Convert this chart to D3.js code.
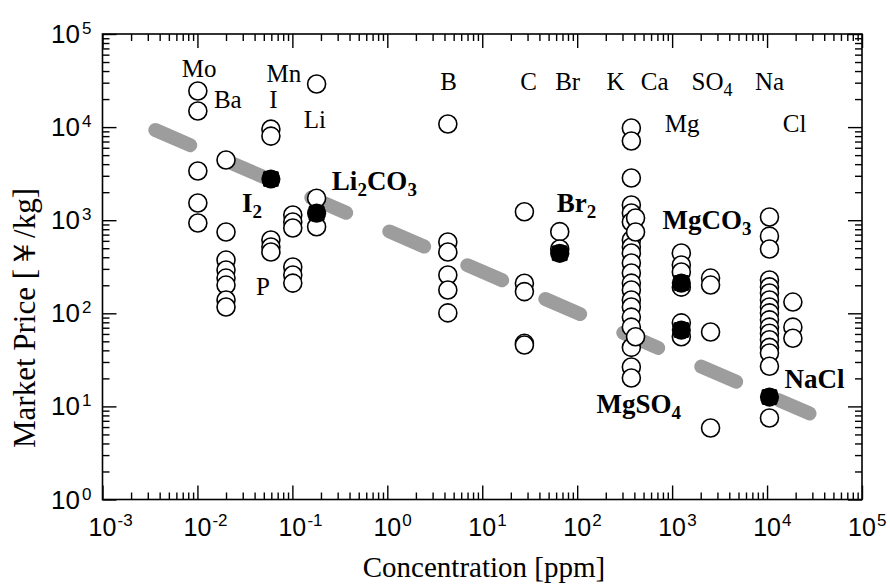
<!DOCTYPE html>
<html>
<head>
<meta charset="utf-8">
<script src="https://cdn.jsdelivr.net/npm/d3@7"></script>
<style>
  body { margin: 0; background: #fff; }
  svg { display: block; }
</style>
</head>
<body>
<div id="viz"></div>
<script>
// chart size
var w = 890;
var h = 584;
var margin = {top: 34, right: 28, bottom: 84.5, left: 102.5};

// concentration of each column [ppm] and the prices found at it [yen/kg]
var moConc = 0.0101, moPrice = [24400, 14900, 3375, 1530, 933];
var baConc = 0.02,   baPrice = [4430, 747, 373, 292, 239, 201, 139, 117];
var iConc  = 0.0594, iPrice  = [9500, 8000, 612, 515, 455];
var pConc  = 0.101,  pPrice  = [1137, 957, 825, 314, 258, 211];
var liConc = 0.18,   liPrice = [29000, 1720, 851];
var bConc  = 4.34,   bPrice  = [10800, 583, 455, 258, 178, 101];
var cConc  = 27.8,   cPrice  = [1234, 210, 171, 47.6, 45.6];
var brConc = 65.5,   brPrice = [753, 490];
var kConc  = 372,    kPrice  = [9780, 7090, 2840, 1455, 1194, 957, 612, 515, 444, 347, 271, 211, 178, 139, 117, 91, 71, 43, 26.5, 20.2];
var caConc = 412,    caPrice = [1056, 747, 56];
var mgConc = 1250,   mgPrice = [444, 330, 278, 191, 79, 56];
var so4Conc = 2540,  so4Price = [239, 201, 63, 5.86];
var naConc = 10600,  naPrice = [1082, 674, 490, 228, 192, 165, 139, 117, 101, 85, 71, 61, 52, 43, 37.5, 27, 7.5];
var clConc = 18700,  clPrice = [132, 71, 54];

// products (filled markers)
var productNames = ["I2", "Li2CO3", "Br2", "MgCO3", "MgSO4", "NaCl"];
var productConc  = [0.0594, 0.18, 65.5, 1250, 1250, 10600];
var productPrice = [2770, 1190, 441, 211, 66, 12.6];

// grey trend line ends
var trendConc  = [0.0036, 28000];
var trendPrice = [9300, 8.4];

// element labels (text, concentration, price at baseline)
var elemNames = ["Mo", "Ba", "Mn", "I", "Li", "B", "C", "Br", "K", "Ca", "Na", "Mg", "Cl", "P"];
var elemConc  = [0.0104, 0.0209, 0.0814, 0.063, 0.1726, 4.43, 30.8, 79.4, 254, 655, 10600, 1274, 19500, 0.0489];
var elemPrice = [34500, 16000, 30500, 16000, 9780, 25300, 25300, 25300, 25300, 25300, 25300, 8850, 8850, 157];

// product labels (main text, subscript, rest, ...) start position
var prodLabelParts = [["I", "2"], ["Li", "2", "CO", "3"], ["Br", "2"], ["MgCO", "3"], ["MgSO", "4"], ["NaCl"]];
var prodLabelConc  = [0.0294, 0.2606, 60.8, 794, 160, 15300];
var prodLabelPrice = [1225, 2110, 1225, 804, 8.49, 15.8];

var xTicks = [1e-3, 1e-2, 1e-1, 1e0, 1e1, 1e2, 1e3, 1e4, 1e5];
var yTicks = [1e0, 1e1, 1e2, 1e3, 1e4, 1e5];

var columns = [
  [moConc, moPrice], [baConc, baPrice], [iConc, iPrice], [pConc, pPrice],
  [liConc, liPrice], [bConc, bPrice], [cConc, cPrice], [brConc, brPrice],
  [kConc, kPrice], [caConc, caPrice], [mgConc, mgPrice], [so4Conc, so4Price],
  [naConc, naPrice], [clConc, clPrice]
];

var width = w - margin.left - margin.right;
var height = h - margin.top - margin.bottom;

var x = d3.scaleLog().domain([1e-3, 1e5]).range([margin.left, margin.left + width]);
var y = d3.scaleLog().domain([1, 1e5]).range([margin.top + height, margin.top]);

var svg = d3.select("#viz")
            .append("svg")
            .attr("width", w)
            .attr("height", h);

svg.append("rect").attr("width", w).attr("height", h).attr("fill", "#fff");

// minor tick values
function minors(lo, hi) {
  var out = [];
  for (var e = lo; e < hi; e++) {
    for (var m = 2; m <= 9; m++) out.push(m * Math.pow(10, e));
  }
  return out;
}
var xMinor = minors(-3, 5);
var yMinor = minors(0, 5);

function drawAxis(axis, tx, ty) {
  var g = svg.append("g")
             .attr("transform", "translate(" + tx + "," + ty + ")")
             .call(axis);
  g.select(".domain").remove();
  g.selectAll("line").attr("stroke", "#000").attr("stroke-width", 1.4);
  return g;
}

var bottomY = margin.top + height;
var rightX = margin.left + width;

drawAxis(d3.axisBottom(x).tickValues(xTicks).tickSize(-14).tickFormat(""), 0, bottomY);
drawAxis(d3.axisBottom(x).tickValues(xMinor).tickSize(-7).tickFormat(""), 0, bottomY);
drawAxis(d3.axisTop(x).tickValues(xTicks).tickSize(-14).tickFormat(""), 0, margin.top);
drawAxis(d3.axisTop(x).tickValues(xMinor).tickSize(-7).tickFormat(""), 0, margin.top);
drawAxis(d3.axisLeft(y).tickValues(yTicks).tickSize(-14).tickFormat(""), margin.left, 0);
drawAxis(d3.axisLeft(y).tickValues(yMinor).tickSize(-7).tickFormat(""), margin.left, 0);
drawAxis(d3.axisRight(y).tickValues(yTicks).tickSize(-14).tickFormat(""), rightX, 0);
drawAxis(d3.axisRight(y).tickValues(yMinor).tickSize(-7).tickFormat(""), rightX, 0);

// frame
svg.append("rect")
   .attr("x", margin.left)
   .attr("y", margin.top)
   .attr("width", width)
   .attr("height", height)
   .attr("fill", "none")
   .attr("stroke", "#000")
   .attr("stroke-width", 1.6);

// tick labels 10^n
var tickFont = "'Liberation Sans', Arial, sans-serif";
xTicks.forEach(function(t) {
  var e = Math.round(Math.log10(t));
  svg.append("text")
     .attr("x", x(t)).attr("y", bottomY + 36)
     .attr("text-anchor", "middle")
     .style("font-family", tickFont).style("font-size", "25px")
     .text("10");
  svg.append("text")
     .attr("x", x(t) + 15).attr("y", bottomY + 26)
     .style("font-family", tickFont).style("font-size", "17px")
     .text(e < 0 ? "-" + (-e) : e);
});
yTicks.forEach(function(t) {
  var e = Math.round(Math.log10(t));
  svg.append("text")
     .attr("x", 80).attr("y", y(t) + 9)
     .attr("text-anchor", "end")
     .style("font-family", tickFont).style("font-size", "26px")
     .text("10");
  svg.append("text")
     .attr("x", 82).attr("y", y(t))
     .style("font-family", tickFont).style("font-size", "17px")
     .text(e);
});

// axis titles
var serif = "'Liberation Serif', 'Times New Roman', serif";
svg.append("text")
   .attr("x", 484).attr("y", 577)
   .attr("text-anchor", "middle")
   .style("font-family", serif).style("font-size", "29px")
   .text("Concentration [ppm]");
svg.append("text")
   .attr("transform", "translate(35,318) rotate(-90)")
   .attr("text-anchor", "middle")
   .style("font-family", serif).style("font-size", "31px")
   .text("Market Price [￥/kg]");

// dashed grey trend
svg.append("line")
   .attr("x1", x(trendConc[0])).attr("y1", y(trendPrice[0]))
   .attr("x2", x(trendConc[1])).attr("y2", y(trendPrice[1]))
   .attr("stroke", "#9d9d9d")
   .attr("stroke-width", 14)
   .attr("stroke-linecap", "round")
   .attr("stroke-dasharray", "38,47");

// open circles, column by column, top to bottom
var pts = [];
columns.forEach(function(c) {
  c[1].forEach(function(p) { pts.push({conc: c[0], price: p}); });
});
svg.append("g")
   .selectAll("circle")
   .data(pts)
   .enter()
   .append("circle")
   .attr("cx", function(d) { return x(d.conc); })
   .attr("cy", function(d) { return y(d.price); })
   .attr("r", 9)
   .attr("fill", "#fff")
   .attr("stroke", "#000")
   .attr("stroke-width", 1.6);

// filled product markers
var prod = svg.append("g")
              .selectAll("g")
              .data(productNames)
              .enter()
              .append("g")
              .attr("transform", function(d, i) {
                return "translate(" + x(productConc[i]) + "," + y(productPrice[i]) + ")";
              });
prod.append("rect").attr("x", -8).attr("y", -8).attr("width", 16).attr("height", 16).attr("rx", 2).attr("fill", "#000");
prod.append("circle").attr("r", 9.6).attr("fill", "#000");

// element labels
svg.append("g")
   .selectAll("text")
   .data(elemNames)
   .enter()
   .append("text")
   .attr("x", function(d, i) { return x(elemConc[i]); })
   .attr("y", function(d, i) { return y(elemPrice[i]); })
   .attr("text-anchor", "middle")
   .style("font-family", serif).style("font-size", "25px")
   .text(function(d) { return d; });

// SO4 label with subscript
var so4 = svg.append("text")
             .attr("x", x(1603)).attr("y", y(25300))
             .style("font-family", serif).style("font-size", "25px");
so4.append("tspan").text("SO");
so4.append("tspan").attr("dy", 6).style("font-size", "18px").text("4");

// product labels with subscripts
prodLabelParts.forEach(function(parts, i) {
  var t = svg.append("text")
             .attr("x", x(prodLabelConc[i]))
             .attr("y", y(prodLabelPrice[i]))
             .style("font-family", serif).style("font-size", "27px")
             .style("font-weight", "bold");
  parts.forEach(function(s, j) {
    var sub = (j % 2 == 1);
    t.append("tspan")
     .attr("dy", j == 0 ? 0 : (sub ? 6 : -6))
     .style("font-size", sub ? "19px" : "27px")
     .text(s);
  });
});
</script>
</body>
</html>
